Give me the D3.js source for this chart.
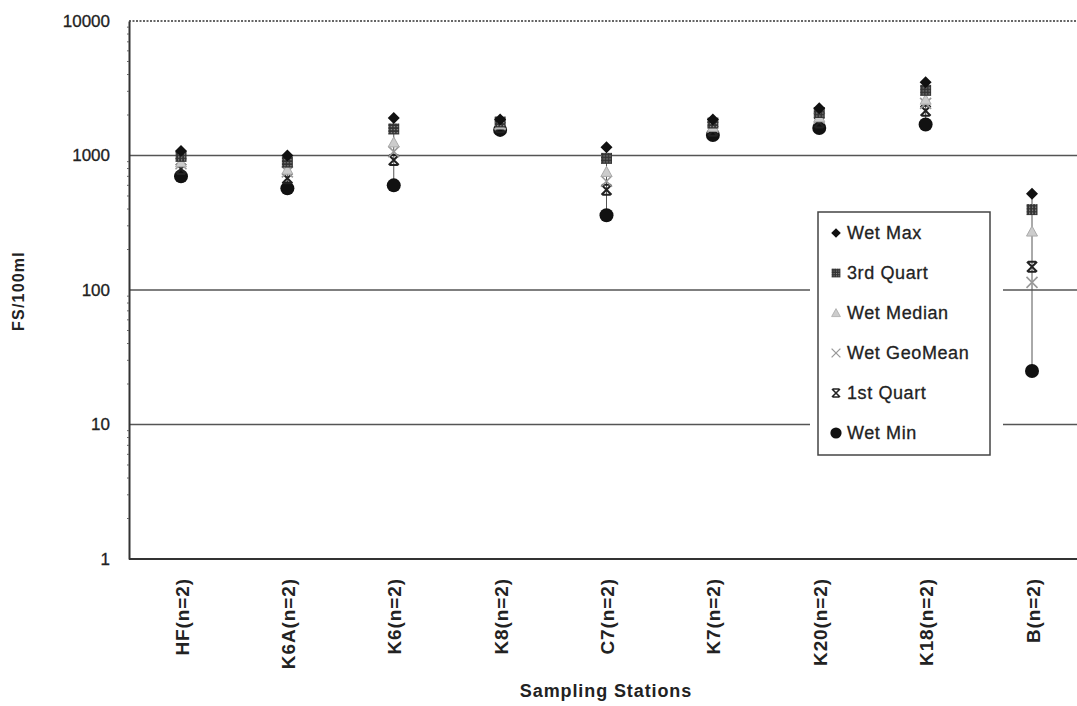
<!DOCTYPE html>
<html>
<head>
<meta charset="utf-8">
<script src="https://cdn.jsdelivr.net/npm/d3@7/dist/d3.min.js"></script>
<style>
  html, body { margin: 0; padding: 0; background: #fff; }
  svg { display: block; font-family: "Liberation Sans", Arial, sans-serif; }
</style>
</head>
<body>
<svg id="chart" width="1077" height="706"></svg>
<script>
// Faecal streptococci (FS/100ml) summary statistics for wet-weather samples
const stations = ["HF(n=2)", "K6A(n=2)", "K6(n=2)", "K8(n=2)", "C7(n=2)", "K7(n=2)", "K20(n=2)", "K18(n=2)", "B(n=2)"];
const wetMax     = [1080, 1000, 1900, 1850, 1150, 1850, 2250, 3500, 520];
const thirdQuart = [985,  893,  1575, 1775, 952,  1743, 2088, 3050, 396];
const wetMedian  = [890,  785,  1250, 1700, 755,  1635, 1925, 2600, 272];
const wetGeoMean = [869,  755,  1068, 1693, 643,  1621, 1897, 2439, 114];
const firstQuart = [795,  678,  925,  1625, 557,  1528, 1763, 2150, 149];
const wetMin     = [700,  570,  600,  1550, 360,  1420, 1600, 1700, 25];
const yTicks = [1, 10, 100, 1000, 10000];
const gridValues = [10, 100, 1000];

const svg = d3.select("#chart");
const plotLeft = 129, plotRight = 1077, plotTop = 21, plotBottom = 559;

const x = d3.scalePoint().domain(stations).range([181, 1032]);
const y = d3.scaleLog().domain([1, 10000]).range([plotBottom, plotTop]);

// hatched fill used by the 3rd quartile squares
const defs = svg.append("defs");
const pat = defs.append("pattern").attr("id", "hatch")
  .attr("width", 3).attr("height", 3).attr("patternUnits", "userSpaceOnUse");
pat.append("rect").attr("width", 3).attr("height", 3).attr("fill", "#333");
pat.append("rect").attr("width", 1.2).attr("height", 1.2).attr("fill", "#999");

// horizontal gridlines
svg.append("g").selectAll("line").data(gridValues).join("line")
  .attr("x1", plotLeft).attr("x2", plotRight)
  .attr("y1", d => y(d)).attr("y2", d => y(d))
  .attr("stroke", "#555").attr("stroke-width", 1.6);

// dotted top edge
svg.append("line").attr("x1", plotLeft).attr("x2", plotRight)
  .attr("y1", y(10000)).attr("y2", y(10000))
  .attr("stroke", "#333").attr("stroke-width", 1.6).attr("stroke-dasharray", "2,1.5");

// y axis
const yAxis = svg.append("g").attr("transform", `translate(${plotLeft},0)`)
  .call(d3.axisLeft(y).tickValues(yTicks).tickFormat(d3.format("d")).tickSize(0).tickPadding(19));
yAxis.select(".domain").attr("stroke", "#333").attr("stroke-width", 2);
yAxis.selectAll("text").attr("font-size", 17).attr("fill", "#222")
  .attr("stroke", "#222").attr("stroke-width", 0.3);

// minor log ticks on the y axis
const minor = [];
for (let p = 1; p < 10000; p *= 10) for (let k = 2; k <= 9; k++) minor.push(p * k);
yAxis.selectAll(".minor").data(minor).join("line").attr("class", "minor")
  .attr("x1", -2).attr("x2", 0).attr("y1", d => y(d)).attr("y2", d => y(d))
  .attr("stroke", "#666").attr("stroke-width", 1);

// x axis
const xAxis = svg.append("g").attr("transform", `translate(0,${plotBottom})`)
  .call(d3.axisBottom(x).tickSize(0).tickPadding(0));
xAxis.select(".domain").attr("d", `M${plotLeft},0H${plotRight}`).attr("stroke", "#333").attr("stroke-width", 2);
xAxis.selectAll("text")
  .attr("font-size", 19).attr("font-weight", "bold").attr("fill", "#222")
  .attr("letter-spacing", 0.9)
  .attr("text-anchor", "end").attr("dy", null)
  .attr("transform", "translate(7,19) rotate(-90)");

// axis titles
svg.append("text").attr("x", 606).attr("y", 697).attr("text-anchor", "middle")
  .attr("font-size", 18).attr("font-weight", "bold").attr("fill", "#222")
  .attr("letter-spacing", 0.9).text("Sampling Stations");
svg.append("text").attr("transform", "translate(24,291) rotate(-90)").attr("text-anchor", "middle")
  .attr("font-size", 16).attr("font-weight", "bold").attr("fill", "#222")
  .attr("letter-spacing", 1.2).text("FS/100ml");

// marker painters
const markers = {
  max: g => g.append("path").attr("d", "M0,-6L6,0L0,6L-6,0Z").attr("fill", "#111"),
  q3: g => g.append("rect").attr("x", -5.5).attr("y", -5.5).attr("width", 11).attr("height", 11)
    .attr("fill", "url(#hatch)"),
  median: g => g.append("path").attr("d", "M0,-5.5L5.5,4.5L-5.5,4.5Z").attr("fill", "#ccc").attr("stroke", "#aaa").attr("stroke-width", 1),
  geo: g => g.append("path").attr("d", "M-5.5,-5.5L5.5,5.5M5.5,-5.5L-5.5,5.5").attr("stroke", "#999").attr("stroke-width", 1.6).attr("fill", "none"),
  q1: g => g.append("path").attr("d", "M-5,-5L5,5M5,-5L-5,5M-4,-5H4M-4,5H4").attr("stroke", "#222").attr("stroke-width", 2).attr("fill", "none"),
  min: g => g.append("circle").attr("r", 7).attr("fill", "#111")
};

const series = [
  { key: "min", name: "Wet Min", values: wetMin },
  { key: "q1", name: "1st Quart", values: firstQuart },
  { key: "geo", name: "Wet GeoMean", values: wetGeoMean },
  { key: "median", name: "Wet Median", values: wetMedian },
  { key: "q3", name: "3rd Quart", values: thirdQuart },
  { key: "max", name: "Wet Max", values: wetMax }
];

// high-low connector lines
svg.append("g").selectAll("line").data(stations).join("line")
  .attr("x1", d => x(d)).attr("x2", d => x(d))
  .attr("y1", (d, i) => y(wetMax[i])).attr("y2", (d, i) => y(wetMin[i]))
  .attr("stroke", "#555").attr("stroke-width", 1);

// data points
series.forEach(s => {
  svg.append("g").selectAll("g").data(stations).join("g")
    .attr("transform", (d, i) => `translate(${x(d)},${y(s.values[i])})`)
    .each(function () { markers[s.key](d3.select(this)); });
});

// legend
const lg = svg.append("g");
lg.append("rect").attr("x", 810).attr("y", 205).attr("width", 193).attr("height", 257).attr("fill", "#fff");
lg.append("rect").attr("x", 818).attr("y", 212).attr("width", 172).attr("height", 243)
  .attr("fill", "#fff").attr("stroke", "#444").attr("stroke-width", 1.5);
const legendOrder = ["max", "q3", "median", "geo", "q1", "min"];
legendOrder.forEach((k, i) => {
  const s = series.find(t => t.key === k);
  const row = lg.append("g").attr("transform", `translate(836,${233 + i * 40})`);
  const m = row.append("g").attr("transform", "scale(0.8)");
  markers[k](m);
  row.append("text").attr("x", 11).attr("y", 6).attr("font-size", 18).attr("fill", "#222")
    .attr("letter-spacing", 0.6).attr("stroke", "#222").attr("stroke-width", 0.3)
    .text(s.name);
});
</script>
</body>
</html>
